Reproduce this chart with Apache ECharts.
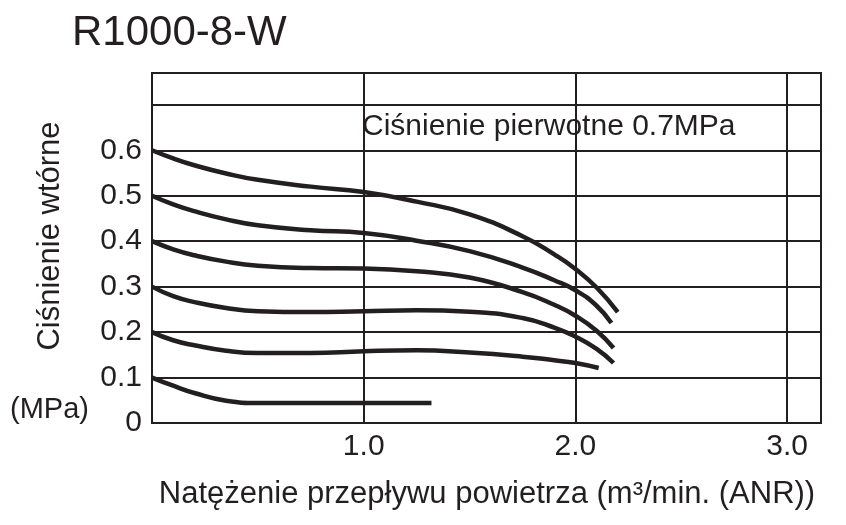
<!DOCTYPE html>
<html>
<head>
<meta charset="utf-8">
<script src="https://cdn.jsdelivr.net/npm/echarts@6/dist/echarts.min.js"></script>
<style>html,body{margin:0;padding:0;background:#fff}#c{width:846px;height:525px}</style>
</head>
<body>
<div id="c"></div>
<script>
// Flow rate (m3/min ANR) and secondary pressure (MPa) for each set-pressure curve
var flow1 = [0, 0.1, 0.2, 0.35, 0.5, 0.75, 1.0, 1.25, 1.5, 1.75, 1.9, 2.0, 2.1, 2.2];
var pres1 = [0.600, 0.582, 0.567, 0.549, 0.535, 0.520, 0.508, 0.487, 0.459, 0.411, 0.371, 0.339, 0.298, 0.244];
var flow2 = [0, 0.1, 0.2, 0.35, 0.5, 0.75, 1.0, 1.25, 1.5, 1.75, 1.9, 2.0, 2.1, 2.17];
var pres2 = [0.500, 0.481, 0.466, 0.448, 0.435, 0.424, 0.418, 0.401, 0.378, 0.342, 0.314, 0.292, 0.258, 0.220];
var flow3 = [0, 0.1, 0.2, 0.35, 0.5, 0.75, 1.0, 1.25, 1.5, 1.75, 1.9, 2.0, 2.1, 2.18];
var pres3 = [0.400, 0.382, 0.369, 0.355, 0.346, 0.341, 0.340, 0.334, 0.320, 0.288, 0.260, 0.236, 0.203, 0.165];
var flow4 = [0, 0.1, 0.2, 0.35, 0.5, 0.75, 1.0, 1.25, 1.5, 1.75, 1.9, 2.0, 2.1, 2.18];
var pres4 = [0.300, 0.279, 0.266, 0.253, 0.246, 0.244, 0.246, 0.248, 0.245, 0.231, 0.210, 0.190, 0.163, 0.132];
var flow5 = [0, 0.1, 0.2, 0.35, 0.5, 0.75, 1.0, 1.25, 1.5, 1.75, 1.9, 2.0, 2.11];
var pres5 = [0.200, 0.182, 0.171, 0.159, 0.154, 0.154, 0.158, 0.160, 0.155, 0.146, 0.138, 0.132, 0.121];
var flow6 = [0, 0.1, 0.2, 0.35, 0.5, 0.75, 1.0, 1.32];
var pres6 = [0.100, 0.082, 0.066, 0.049, 0.044, 0.044, 0.044, 0.044];

var xTickLabels = ['1.0', '2.0', '3.0'];
var yTickLabels = ['0', '0.1', '0.2', '0.3', '0.4', '0.5', '0.6'];

var titleText = 'R1000-8-W';
var noteText = 'Ciśnienie pierwotne 0.7MPa';
var yNameText = 'Ciśnienie wtórne';
var unitText = '(MPa)';
var xNameText = 'Natężenie przepływu powietrza (m³/min. (ANR))';

var INK = '#231f20';
var FONT = '"Liberation Sans", Arial, sans-serif';

function pairs(xs, ys) { return xs.map(function (x, i) { return [x, ys[i]]; }); }
var curves = [[flow1, pres1], [flow2, pres2], [flow3, pres3], [flow4, pres4], [flow5, pres5], [flow6, pres6]];

var chart = echarts.init(document.getElementById('c'), null, { renderer: 'canvas' });
chart.setOption({
  animation: false,
  backgroundColor: '#fff',
  textStyle: { fontFamily: FONT, color: INK },
  grid: { left: 152, right: 25, top: 73, bottom: 102, show: true, borderColor: INK, borderWidth: 2, backgroundColor: 'transparent' },
  xAxis: {
    type: 'value', min: 0, max: 3.16, interval: 1,
    axisLine: { show: true, lineStyle: { color: INK, width: 2 } },
    axisTick: { show: false },
    splitLine: { show: true, lineStyle: { color: INK, width: 2 } },
    axisLabel: {
      fontSize: 30, color: INK, fontFamily: FONT, margin: 9, showMaxLabel: false,
      formatter: function (v) { var i = Math.round(v); if (Math.abs(v - i) > 1e-6 || i < 1) return ''; return xTickLabels[i - 1] || ''; }
    }
  },
  yAxis: {
    type: 'value', min: 0, max: 0.77, interval: 0.1,
    axisLine: { show: true, lineStyle: { color: INK, width: 2 } },
    axisTick: { show: false },
    splitLine: { show: true, lineStyle: { color: INK, width: 2 } },
    axisLabel: {
      fontSize: 30, color: INK, fontFamily: FONT, margin: 10, showMaxLabel: false,
      formatter: function (v) { var i = Math.round(v * 10); if (Math.abs(v * 10 - i) > 1e-6) return ''; return yTickLabels[i] || ''; }
    }
  },
  graphic: [
    { type: 'text', left: 72, top: 12, style: { text: titleText, font: '42px ' + FONT, fill: INK } },
    { type: 'text', x: 362, y: 127, style: { text: noteText, font: '30px ' + FONT, fill: INK, textVerticalAlign: 'middle' } },
    { type: 'text', x: 10, y: 410, style: { text: unitText, font: '29px ' + FONT, fill: INK, textVerticalAlign: 'middle' } },
    { type: 'text', x: 50, y: 236, rotation: Math.PI / 2, style: { text: yNameText, font: '31px ' + FONT, fill: INK, textAlign: 'center', textVerticalAlign: 'middle' } },
    { type: 'text', x: 487, y: 494, style: { text: xNameText, font: '31px ' + FONT, fill: INK, textAlign: 'center', textVerticalAlign: 'middle' } }
  ],
  series: curves.map(function (c) {
    return {
      type: 'line', data: pairs(c[0], c[1]), smooth: 0.5, showSymbol: false, symbol: 'none',
      lineStyle: { color: INK, width: 4.5, cap: 'butt' }, z: 5
    };
  })
});
</script>
</body>
</html>
